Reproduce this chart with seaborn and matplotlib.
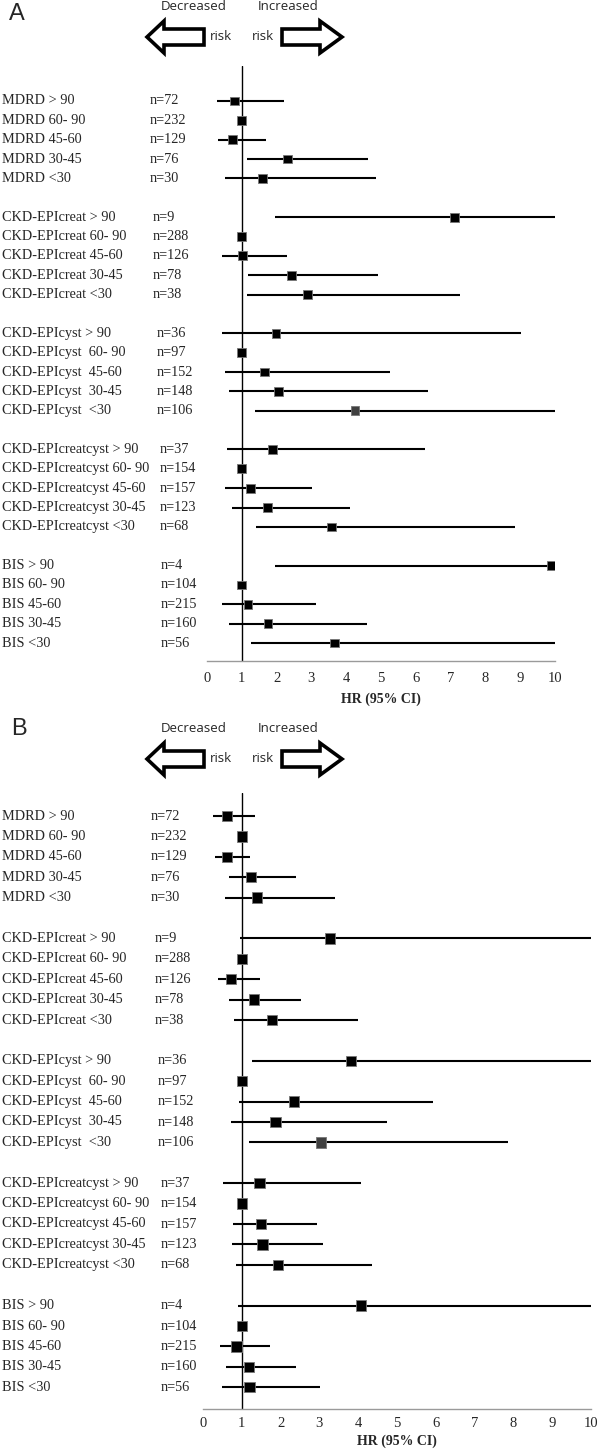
import numpy as np
import pandas as pd
import matplotlib
matplotlib.use("Agg")
import matplotlib.pyplot as plt
from matplotlib.patches import Polygon
from matplotlib.transforms import blended_transform_factory
import seaborn as sns

# ------------------------------------------------------------------
# data
# ------------------------------------------------------------------
groups = ["MDRD", "CKD-EPIcreat", "CKD-EPIcyst", "CKD-EPIcreatcyst", "BIS"]
strata = ["> 90", "60- 90", "45-60", "30-45", "<30"]
labels = [
    "MDRD > 90", "MDRD 60- 90", "MDRD 45-60", "MDRD 30-45", "MDRD <30",
    "CKD-EPIcreat > 90", "CKD-EPIcreat 60- 90", "CKD-EPIcreat 45-60", "CKD-EPIcreat 30-45", "CKD-EPIcreat <30",
    "CKD-EPIcyst > 90", "CKD-EPIcyst  60- 90", "CKD-EPIcyst  45-60", "CKD-EPIcyst  30-45", "CKD-EPIcyst  <30",
    "CKD-EPIcreatcyst > 90", "CKD-EPIcreatcyst 60- 90", "CKD-EPIcreatcyst 45-60", "CKD-EPIcreatcyst 30-45", "CKD-EPIcreatcyst <30",
    "BIS > 90", "BIS 60- 90", "BIS 45-60", "BIS 30-45", "BIS <30",
]
n_obs = [72, 232, 129, 76, 30,
         9, 288, 126, 78, 38,
         36, 97, 152, 148, 106,
         37, 154, 157, 123, 68,
         4, 104, 215, 160, 56]

# panel A
hr_a = [0.80, 1.00, 0.74, 2.31, 1.59,
        7.11, 1.00, 1.02, 2.43, 2.89,
        1.98, 1.00, 1.65, 2.05, 4.25,
        1.88, 1.00, 1.24, 1.73, 3.57,
        9.90, 1.00, 1.18, 1.75, 3.66]
lo_a = [0.30, 1.00, 0.33, 1.15, 0.53,
        1.95, 1.00, 0.44, 1.19, 1.15,
        0.42, 1.00, 0.51, 0.64, 1.37,
        0.57, 1.00, 0.51, 0.71, 1.41,
        1.95, 1.00, 0.44, 0.64, 1.26]
hi_a = [2.20, 1.00, 1.70, 4.62, 4.86,
        10.0, 1.00, 2.29, 4.91, 7.27,
        9.01, 1.00, 5.27, 6.35, 10.0,
        6.26, 1.00, 3.03, 4.12, 8.85,
        10.0, 1.00, 3.12, 4.59, 10.0]

# panel B
hr_b = [0.61, 1.00, 0.61, 1.24, 1.40,
        3.28, 1.00, 0.73, 1.31, 1.78,
        3.82, 1.00, 2.34, 1.87, 3.04,
        1.46, 1.00, 1.49, 1.53, 1.94,
        4.07, 1.00, 0.86, 1.19, 1.20]
lo_b = [0.25, 1.00, 0.31, 0.66, 0.57,
        0.96, 1.00, 0.39, 0.66, 0.81,
        1.27, 1.00, 0.94, 0.73, 1.19,
        0.52, 1.00, 0.78, 0.75, 0.86,
        0.91, 1.00, 0.44, 0.60, 0.49]
hi_b = [1.35, 1.00, 1.22, 2.39, 3.41,
        10.0, 1.00, 1.46, 2.52, 4.00,
        10.0, 1.00, 5.92, 4.74, 7.85,
        4.07, 1.00, 2.95, 3.10, 4.36,
        10.0, 1.00, 1.73, 2.39, 3.02]

grey_rows = ["CKD-EPIcyst  <30"]
xticks = list(range(0, 11))

W, H = 600, 1453
SERIF = ["Liberation Serif", "DejaVu Serif"]
SANS = ["Open Sans", "DejaVu Sans"]


def make_df(hr, lo, hi):
    df = pd.DataFrame({"label": labels, "n": n_obs, "hr": hr, "lo": lo, "hi": hi})
    df["group"] = np.repeat(groups, len(strata))
    df["row"] = [g * 6 + i for g in range(len(groups)) for i in range(len(strata))]
    df["tone"] = np.where(df["label"].isin(grey_rows), "grey", "black")
    return df


def fx(px):
    return px / W


def fy(py):
    return 1 - py / H


def risk_header(fig, y_txt, y_arr, letter, letter_xy):
    fig.text(fx(letter_xy[0]), fy(letter_xy[1]), letter, fontsize=17,
             family=["Liberation Sans", "DejaVu Sans"], ha="center", va="center")
    fig.text(fx(194), fy(y_txt), "Decreased", fontsize=9.5, family=SANS,
             ha="center", va="center")
    fig.text(fx(288), fy(y_txt), "Increased", fontsize=9.5, family=SANS,
             ha="center", va="center")
    fig.text(fx(221), fy(y_arr), "risk", fontsize=9.5, family=SANS, ha="center", va="center")
    fig.text(fx(263), fy(y_arr), "risk", fontsize=9.5, family=SANS, ha="center", va="center")
    # hollow block arrows
    hh, bh = 16, 8
    left = [(147, y_arr), (164, y_arr - hh), (164, y_arr - bh), (204, y_arr - bh),
            (204, y_arr + bh), (164, y_arr + bh), (164, y_arr + hh)]
    right = [(342, y_arr), (320, y_arr - hh), (320, y_arr - bh), (282, y_arr - bh),
             (282, y_arr + bh), (320, y_arr + bh), (320, y_arr + hh)]
    for pts in (left, right):
        fig.patches.append(Polygon([(fx(x), fy(y)) for x, y in pts], closed=True,
                                   facecolor="white", edgecolor="black", lw=2.6,
                                   joinstyle="miter", transform=fig.transFigure))


def forest(fig, rect, df, ylim, n_x, msize, tick_pad, label_pad):
    ax = fig.add_axes(rect)
    ax.hlines(df["row"], df["lo"], df["hi"], color="black", lw=1.5, zorder=2)
    ax.axvline(1, color="black", lw=1.0, zorder=1)
    sns.scatterplot(data=df, x="hr", y="row", hue="tone", marker="s", s=msize,
                    palette={"black": "black", "grey": "#404040"},
                    edgecolor="#777777", linewidth=0.6, legend=False, ax=ax, zorder=3)
    ax.set_xlim(0, 10)
    ax.set_ylim(*ylim)
    ax.set_xticks(xticks)
    ax.set_xticklabels([str(t) for t in xticks], family=SERIF, fontsize=10.5)
    ax.set_yticks([])
    ax.set_xlabel("HR (95% CI)", family=SERIF, fontsize=10, fontweight="bold",
                  labelpad=label_pad)
    ax.set_ylabel("")
    ax.tick_params(axis="x", length=0, pad=tick_pad)
    sns.despine(ax=ax, left=True)
    ax.spines["bottom"].set_color("#9a9a9a")
    ax.spines["bottom"].set_linewidth(1.0)
    ax.patch.set_alpha(0)

    tr = blended_transform_factory(fig.transFigure, ax.transData)
    for _, r in df.iterrows():
        ax.text(fx(2), r["row"], r["label"], transform=tr, family=SERIF,
                fontsize=10.3, ha="left", va="center")
        ax.text(fx(n_x[r["group"]]), r["row"], f"n={r['n']}", transform=tr,
                family=SERIF, fontsize=10.3, ha="left", va="center")
    return ax


sns.set_theme(style="white")
plt.rcParams["font.family"] = ["Liberation Serif", "DejaVu Serif"]

fig = plt.figure(figsize=(W / 100, H / 100), dpi=100)
fig.patch.set_facecolor("white")

df_a = make_df(hr_a, lo_a, hi_a)
df_b = make_df(hr_b, lo_b, hi_b)

# panel A
risk_header(fig, 7, 37, "A", (17, 14))
sp_a = 19.36
top_a, bot_a, r0_a = 66, 661, 101
forest(fig, [fx(207), fy(bot_a), (555 - 207) / W, (bot_a - top_a) / H], df_a,
       ((bot_a - r0_a) / sp_a, (top_a - r0_a) / sp_a),
       {"MDRD": 150, "CKD-EPIcreat": 153, "CKD-EPIcyst": 157,
        "CKD-EPIcreatcyst": 160, "BIS": 161}, 40, 8, 5)

# panel B
risk_header(fig, 728, 759, "B", (19, 729))
sp_b = 20.4
top_b, bot_b, r0_b = 793, 1409, 816
forest(fig, [fx(203), fy(bot_b), (591 - 203) / W, (bot_b - top_b) / H], df_b,
       ((bot_b - r0_b) / sp_b, (top_b - r0_b) / sp_b),
       {"MDRD": 151, "CKD-EPIcreat": 155, "CKD-EPIcyst": 158,
        "CKD-EPIcreatcyst": 161, "BIS": 161}, 55, 6, 3)

fig.savefig("out.png", dpi=100, facecolor="white")
